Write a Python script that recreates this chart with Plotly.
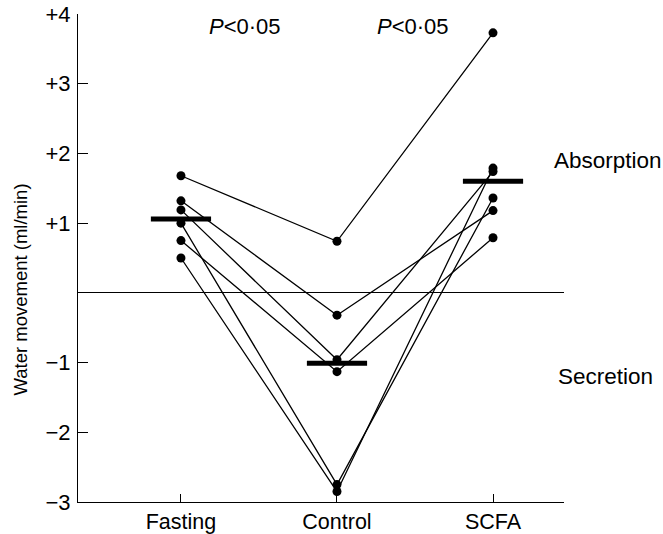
import plotly.graph_objects as go

categories = ["Fasting", "Control", "SCFA"]
subject_values = [
    [1.68, 0.74, 3.73],
    [1.32, -0.32, 1.18],
    [1.19, -0.96, 1.74],
    [0.75, -1.13, 0.79],
    [1.00, -2.75, 1.36],
    [0.50, -2.85, 1.79],
]
mean_values = [1.06, -1.01, 1.60]
ytick_vals = [4, 3, 2, 1, -1, -2, -3]
ytick_text = ["+4", "+3", "+2", "+1", "\u22121", "\u22122", "\u22123"]
p_labels = ["<i>P</i>&lt;0\u00b705", "<i>P</i>&lt;0\u00b705"]

FONT = "Liberation Sans, Arial, sans-serif"
xpos = list(range(len(categories)))

fig = go.Figure()
for vals in subject_values:
    fig.add_trace(go.Scatter(
        x=xpos, y=vals, mode="lines+markers",
        line=dict(color="black", width=1.3),
        marker=dict(color="black", size=9),
        showlegend=False, hoverinfo="skip", cliponaxis=False,
    ))

fig.add_trace(go.Scatter(
    x=xpos, y=mean_values, mode="markers",
    marker=dict(symbol="line-ew", size=43, line=dict(color="black", width=5)),
    showlegend=False, hoverinfo="skip", cliponaxis=False,
))

# P-value annotations between groups
for i, txt in enumerate(p_labels):
    fig.add_annotation(x=i + 0.41 + 0.08 * i, y=3.82, xref="x", yref="y",
                       text=txt, showarrow=False,
                       font=dict(family=FONT, size=22, color="black"))

fig.add_annotation(x=0.975, y=1.90, xref="paper", yref="y", xanchor="left",
                   text="Absorption", showarrow=False,
                   font=dict(family=FONT, size=22.5, color="black"))
fig.add_annotation(x=0.983, y=-1.20, xref="paper", yref="y", xanchor="left",
                   text="Secretion", showarrow=False,
                   font=dict(family=FONT, size=22.5, color="black"))
fig.add_annotation(x=-0.119, y=0.05, xref="paper", yref="y",
                   text="Water movement (ml/min)", textangle=-90,
                   showarrow=False, xanchor="center", yanchor="middle",
                   font=dict(family=FONT, size=18.5, color="black"))

fig.update_xaxes(
    range=[-0.66, 2.455], tickvals=xpos, ticktext=categories,
    ticks="inside", ticklen=8, tickcolor="black", tickwidth=1,
    showline=True, linecolor="black", linewidth=1.2,
    showgrid=False, zeroline=False, automargin=False,
    tickfont=dict(family=FONT, size=21.5, color="black"),
    ticklabelstandoff=0,
)
fig.update_yaxes(
    range=[-3, 4], tickvals=ytick_vals, ticktext=ytick_text,
    ticks="inside", ticklen=10, tickcolor="black", tickwidth=1.2,
    showline=True, linecolor="black", linewidth=1.2,
    showgrid=False, zeroline=True, zerolinecolor="black", zerolinewidth=1.2,
    automargin=False,
    tickfont=dict(family=FONT, size=22, color="black"),
    ticklabelstandoff=2,
)
fig.update_layout(
    width=663, height=534,
    margin=dict(l=78, r=99, t=14, b=32, autoexpand=False),
    paper_bgcolor="white", plot_bgcolor="white",
    font=dict(family=FONT, color="black"),
)
fig.write_html("out.html")
